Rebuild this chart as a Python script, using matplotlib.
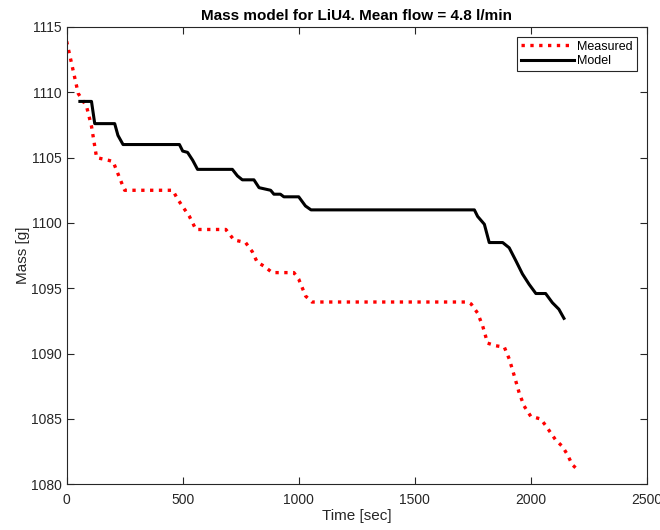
import matplotlib
matplotlib.use("Agg")
import matplotlib.pyplot as plt

# measured mass (red dotted)
t_meas = [0, 50, 86, 107, 129, 179, 200, 236, 250, 457, 479, 529, 557, 686, 721,
          771, 800, 821, 850, 886, 979, 1000, 1030, 1057, 1728, 1743, 1771, 1793,
          1814, 1850, 1886, 1907, 1929, 1950, 1971, 2000, 2043, 2064, 2107, 2136,
          2157, 2179, 2203]
m_meas = [1113.9, 1109.9, 1108.9, 1107.4, 1105.0, 1104.8, 1104.7, 1103.1, 1102.5,
          1102.5, 1101.8, 1100.5, 1099.5, 1099.5, 1098.7, 1098.5, 1097.8, 1097.0,
          1096.7, 1096.2, 1096.2, 1095.7, 1094.4, 1093.95, 1093.95, 1093.8, 1093.1,
          1092.1, 1090.8, 1090.6, 1090.5, 1089.6, 1088.3, 1087.0, 1086.0, 1085.2,
          1085.0, 1084.5, 1083.4, 1082.9, 1082.3, 1081.5, 1081.1]

# model mass (black)
t_mod = [57, 107, 121, 207, 221, 243, 486, 500, 521, 543, 564, 714, 736, 757, 807,
         829, 879, 893, 921, 936, 1000, 1029, 1053, 1757, 1771, 1800, 1821, 1879,
         1907, 1936, 1964, 1993, 2022, 2064, 2093, 2121, 2143]
m_mod = [1109.3, 1109.3, 1107.6, 1107.6, 1106.7, 1106.0, 1106.0, 1105.5, 1105.4,
         1104.8, 1104.1, 1104.1, 1103.6, 1103.3, 1103.3, 1102.7, 1102.5, 1102.2,
         1102.2, 1102.0, 1102.0, 1101.3, 1101.0, 1101.0, 1100.5, 1099.9, 1098.5,
         1098.5, 1098.1, 1097.1, 1096.1, 1095.3, 1094.6, 1094.6, 1093.9, 1093.4,
         1092.7]

plt.rcParams['font.family'] = ['Liberation Sans', 'DejaVu Sans']

fig = plt.figure(figsize=(6.6, 5.3), dpi=100)
ax = fig.add_axes([0.101, 0.0862, 0.879, 0.863])

ax.plot(t_meas, m_meas, color='red', linestyle=':', linewidth=2.4, label='Measured')
ax.plot(t_mod, m_mod, color='black', linestyle='-', linewidth=2.2, label='Model')

ax.set_xlim(0, 2500)
ax.set_ylim(1080, 1115)
ax.set_xticks(range(0, 2501, 500))
ax.set_yticks(range(1080, 1116, 5))
ax.tick_params(direction='in', top=True, right=True, labelsize=10,
               colors='#262626', length=5, width=0.8)
ax.tick_params(axis='x', pad=6)
for s in ax.spines.values():
    s.set_color('#262626')
    s.set_linewidth(0.8)

ax.set_xlabel('Time [sec]', fontsize=11, color='#262626', labelpad=2)
ax.set_ylabel('Mass [g]', fontsize=11, color='#262626', labelpad=1)
ax.set_title('Mass model for LiU4. Mean flow = 4.8 l/min', fontsize=11,
             fontweight='bold', pad=5)

leg = ax.legend(loc='upper right', fontsize=9, fancybox=False, framealpha=1,
                edgecolor='#262626', borderpad=0.3, handlelength=4.2,
                labelspacing=0.2, handletextpad=0.3, borderaxespad=0.8)
leg.get_frame().set_linewidth(0.8)

fig.savefig('out.png', dpi=100)
